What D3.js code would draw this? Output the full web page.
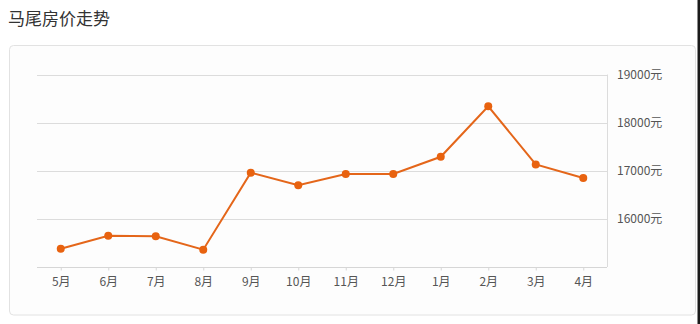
<!DOCTYPE html>
<html lang="zh">
<head>
<meta charset="utf-8">
<title>马尾房价走势</title>
<script src="https://d3js.org/d3.v7.min.js"></script>
<style>
  html, body { margin: 0; padding: 0; background: #fff; }
  svg { display: block; font-family: "Noto Sans CJK SC", "Noto Sans", sans-serif; }
</style>
</head>
<body>
<div id="chart"></div>
<script>
// months and prices (yuan / m2)
var months = ["5月","6月","7月","8月","9月","10月","11月","12月","1月","2月","3月","4月"];
var prices = [15380, 15650, 15640, 15360, 16960, 16700, 16930, 16935, 17290, 18340, 17130, 16850];
var yTicks = [16000, 17000, 18000, 19000];

var w = 700, h = 324;
// plot area (note: "top" is reserved on window, so use other names)
var plotL = 37, plotR = 607, plotT = 74.5, plotB = 267;

var svg = d3.select("#chart").append("svg")
  .attr("width", w)
  .attr("height", h);

// title
svg.append("text")
  .attr("x", 8)
  .attr("y", 25)
  .attr("fill", "#333")
  .style("font-size", "17px")
  .text("马尾房价走势");

// card
svg.append("rect")
  .attr("x", 9.5).attr("y", 45.5)
  .attr("width", 686).attr("height", 269.5)
  .attr("rx", 4)
  .attr("fill", "#fdfdfd")
  .attr("stroke", "#e2e2e2");

// dark strip at the right edge of the screenshot
svg.append("rect")
  .attr("x", 697.5).attr("y", 0)
  .attr("width", 2.5).attr("height", h)
  .attr("fill", "#1a1a1a");

var x = d3.scalePoint()
  .domain(months)
  .range([plotL, plotR])
  .padding(0.5);

var y = d3.scaleLinear()
  .domain([15000, 19000])
  .range([plotB, plotT]);

// grid lines
svg.append("g")
  .selectAll("line")
  .data(yTicks)
  .enter()
  .append("line")
  .attr("x1", plotL).attr("x2", plotR)
  .attr("y1", function(d) { return Math.round(y(d)) + 0.5; })
  .attr("y2", function(d) { return Math.round(y(d)) + 0.5; })
  .attr("stroke", "#dcdcdc");

// right border of plot
svg.append("line")
  .attr("x1", plotR + 0.5).attr("x2", plotR + 0.5)
  .attr("y1", plotT).attr("y2", plotB)
  .attr("stroke", "#dcdcdc");

// right axis labels
var yAxis = d3.axisRight(y)
  .tickValues(yTicks)
  .tickSize(0)
  .tickPadding(10)
  .tickFormat(function(d) { return d + "元"; });

var gy = svg.append("g")
  .attr("transform", "translate(" + plotR + ",0)")
  .call(yAxis);
gy.select(".domain").remove();
gy.selectAll("text")
  .attr("fill", "#555")
  .style("font-size", "12px")
  .style("font-family", "\"Noto Sans CJK SC\", sans-serif");

// bottom axis
var xAxis = d3.axisBottom(x)
  .tickSize(3)
  .tickPadding(7);

var gx = svg.append("g")
  .attr("transform", "translate(0," + (plotB + 0.5) + ")")
  .call(xAxis);
gx.select(".domain")
  .attr("d", "M" + plotL + ",0H" + plotR)
  .attr("stroke", "#d6d6d6");
gx.selectAll(".tick line").attr("stroke", "#d6d6d6");
gx.selectAll("text")
  .attr("fill", "#555")
  .style("font-size", "12px")
  .style("font-family", "\"Noto Sans CJK SC\", sans-serif");

// price line
var line = d3.line()
  .x(function(d, i) { return x(months[i]); })
  .y(function(d) { return y(d); });

svg.append("path")
  .datum(prices)
  .attr("d", line)
  .attr("fill", "none")
  .attr("stroke", "#e4661a")
  .attr("stroke-width", 2);

svg.append("g")
  .selectAll("circle")
  .data(prices)
  .enter()
  .append("circle")
  .attr("cx", function(d, i) { return x(months[i]); })
  .attr("cy", function(d) { return y(d); })
  .attr("r", 4)
  .attr("fill", "#e8620f");
</script>
</body>
</html>
